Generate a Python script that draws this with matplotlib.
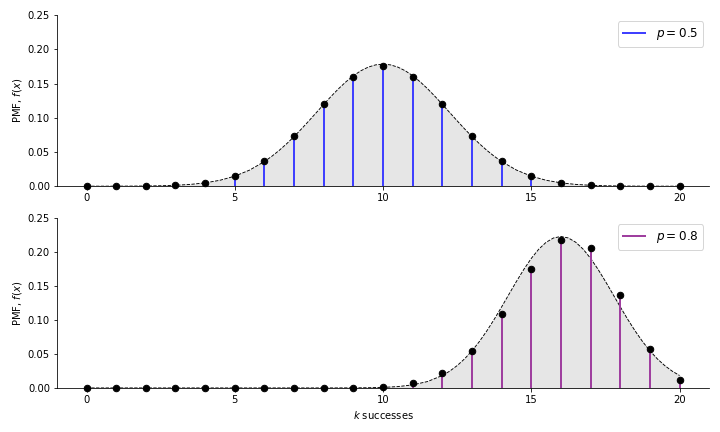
import numpy as np
import matplotlib
matplotlib.use("Agg")
import matplotlib.pyplot as plt

k = list(range(21))
pmf_05 = [0.00000095, 0.000019, 0.000181, 0.001087, 0.004621, 0.014786, 0.036964,
          0.073929, 0.120134, 0.160179, 0.176197, 0.160179, 0.120134, 0.073929,
          0.036964, 0.014786, 0.004621, 0.001087, 0.000181, 0.000019, 0.00000095]
pmf_08 = [0.0, 0.0, 0.0, 0.0, 0.0, 0.0, 0.0000017, 0.0000133, 0.0000866, 0.000462,
          0.002031, 0.007387, 0.022161, 0.054550, 0.109100, 0.174560, 0.218199,
          0.205364, 0.136909, 0.057646, 0.011529]

# dashed approximation curve, read at finer steps near the peaks
curve_x_05 = ([0, 0.5, 1, 1.5, 2, 2.5, 3, 3.5, 4, 4.5, 5, 5.5]
              + [6 + 0.25 * i for i in range(33)]
              + [14.5, 15, 15.5, 16, 16.5, 17, 17.5, 18, 18.5, 19, 19.5, 20])
curve_05 = ([0.000008, 0.00002, 0.000054, 0.00013, 0.00030, 0.00064, 0.00133, 0.00261,
             0.00487, 0.00866, 0.01464, 0.02355]
            + [0.03602, 0.04372, 0.05241, 0.06205, 0.07254, 0.08375, 0.09550, 0.10754,
               0.11959, 0.13134, 0.14247, 0.15260, 0.16143, 0.16865, 0.17401, 0.17730,
               0.17841,
               0.17730, 0.17401, 0.16865, 0.16143, 0.15260, 0.14247, 0.13134, 0.11959,
               0.10754, 0.09550, 0.08375, 0.07254, 0.06205, 0.05241, 0.04372, 0.03602]
            + [0.02355, 0.01464, 0.00866, 0.00487, 0.00261, 0.00133, 0.00064, 0.00030,
               0.00013, 0.000054, 0.00002, 0.000008])

curve_x_08 = ([0.5 * i for i in range(24)]
              + [12 + 0.25 * i for i in range(33)])
curve_08 = ([0.0, 0.0, 0.0, 0.0, 0.0, 0.0, 0.0, 0.0, 0.0, 0.0, 0.0, 0.0, 0.0, 0.0,
             0.0000005, 0.000003, 0.00001, 0.000034, 0.00011, 0.00030, 0.00080,
             0.00198, 0.00449, 0.00942]
            + [0.01831, 0.02478, 0.03289, 0.04281, 0.05465, 0.06841, 0.08399, 0.10111,
               0.11937, 0.13821, 0.15690, 0.17470, 0.19075, 0.20425, 0.21447, 0.22084,
               0.22301,
               0.22084, 0.21447, 0.20425, 0.19075, 0.17470, 0.15690, 0.13821, 0.11937,
               0.10111, 0.08399, 0.06841, 0.05465, 0.04281, 0.03289, 0.02478, 0.01831])

fig = plt.figure(figsize=(10, 6), dpi=72)
ax1 = fig.add_axes([0.079, 0.569, 0.906, 0.396])
ax2 = fig.add_axes([0.079, 0.102, 0.906, 0.393])

def draw(ax, pmf, cx, curve, color, label):
    ax.fill_between(cx, curve, color='0.9', zorder=1)
    ax.plot(cx, curve, 'k--', lw=0.9, zorder=2)
    ax.vlines(k, 0, pmf, colors=color, lw=2, label=label, zorder=3)
    ax.plot(k, pmf, 'o', color='black', ms=6.5, zorder=4, clip_on=False)
    ax.set_xlim(-1, 21)
    ax.set_ylim(0, 0.25)
    ax.set_xticks([0, 5, 10, 15, 20])
    ax.set_yticks([0, 0.05, 0.10, 0.15, 0.20, 0.25])
    ax.set_yticklabels(['0.00', '0.05', '0.10', '0.15', '0.20', '0.25'])
    ax.set_ylabel('PMF, $f(x)$', fontsize=10)
    ax.tick_params(labelsize=10)
    for s in ['top', 'right']:
        ax.spines[s].set_visible(False)
    ax.legend(loc='upper right', fontsize=12)

draw(ax1, pmf_05, curve_x_05, curve_05, '#4040ff', '$p = 0.5$')
draw(ax2, pmf_08, curve_x_08, curve_08, '#9f3f9f', '$p = 0.8$')
ax2.set_xlabel('$k$ successes', fontsize=10)

fig.savefig('out.png', dpi=72)
